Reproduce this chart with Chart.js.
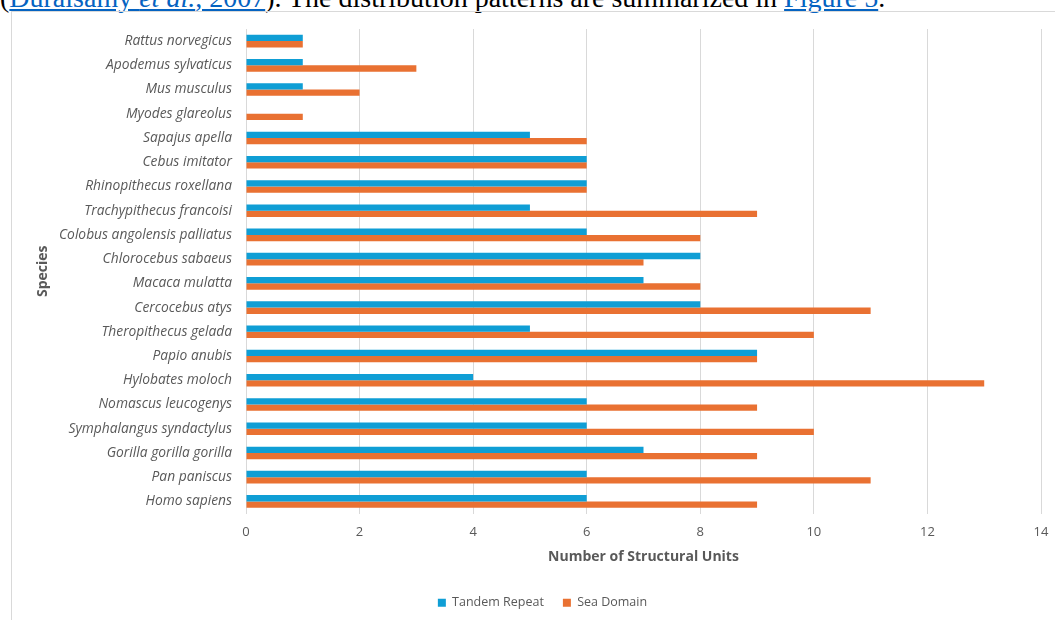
<!DOCTYPE html>
<html>
<head>
<meta charset="utf-8">
<script src="https://cdn.jsdelivr.net/npm/chart.js@4"></script>
<style>
  html, body { margin: 0; padding: 0; background: #fff; overflow: hidden; width: 1055px; height: 620px; }
  #above { position: absolute; left: 0; top: -16px; white-space: nowrap; font-family: "Liberation Serif", serif; font-size: 28px; line-height: 28px; color: #000; }
  #above a { color: #0563c1; text-decoration: underline; }
  #box { position: absolute; left: 11px; top: 11px; width: 1062px; height: 620px; border: 1px solid #d9d9d9; }
  #wrap { position: absolute; left: 0; top: 0; width: 1062px; height: 608px; }
</style>
</head>
<body>
<div id="above">(<a>Duraisamy <i>et al.</i>, 2007</a>). The distribution patterns are summarized in <a>Figure 5</a>.</div>
<div id="box"><div id="wrap"><canvas id="myChart" width="1062" height="608"></canvas></div></div>
<script>
const species = [
  'Rattus norvegicus', 'Apodemus sylvaticus', 'Mus musculus', 'Myodes glareolus',
  'Sapajus apella', 'Cebus imitator', 'Rhinopithecus roxellana', 'Trachypithecus francoisi',
  'Colobus angolensis palliatus', 'Chlorocebus sabaeus', 'Macaca mulatta', 'Cercocebus atys',
  'Theropithecus gelada', 'Papio anubis', 'Hylobates moloch', 'Nomascus leucogenys',
  'Symphalangus syndactylus', 'Gorilla gorilla gorilla', 'Pan paniscus', 'Homo sapiens'
];
const tandemRepeat = [1, 1, 1, 0, 5, 6, 6, 5, 6, 8, 7, 8, 5, 9, 4, 6, 6, 7, 6, 6];
const seaDomain = [1, 3, 2, 1, 6, 6, 6, 9, 8, 7, 8, 11, 10, 9, 13, 9, 10, 9, 11, 9];
const xTicks = [0, 2, 4, 6, 8, 10, 12, 14];

const grey = '#595959';
const fontName = 'Open Sans';
const ctx = document.getElementById('myChart').getContext('2d');

const myChart = new Chart(ctx, {
  type: 'bar',
  data: {
    labels: species,
    datasets: [
      {
        label: 'Tandem Repeat',
        data: tandemRepeat,
        backgroundColor: '#0f9ed5',
        borderWidth: 0
      },
      {
        label: 'Sea Domain',
        data: seaDomain,
        backgroundColor: '#e97132',
        borderWidth: 0
      }
    ]
  },
  options: {
    indexAxis: 'y',
    responsive: false,
    animation: false,
    devicePixelRatio: 1,
    datasets: {
      bar: { categoryPercentage: 0.52, barPercentage: 1 }
    },
    layout: {
      // left padding keeps the legend centred like the original
      padding: { left: 32, top: 17, right: 33, bottom: 1 }
    },
    plugins: {
      tooltip: { enabled: false },
      legend: {
        position: 'bottom',
        labels: {
          boxWidth: 8,
          boxHeight: 8,
          padding: 19,
          color: grey,
          font: { family: fontName, size: 12.5 }
        }
      }
    },
    scales: {
      x: {
        min: 0,
        max: 14,
        afterBuildTicks: (axis) => { axis.ticks = xTicks.map(v => ({ value: v })); },
        afterFit: (axis) => { axis.height = 64; },
        grid: { color: '#d9d9d9', drawTicks: false, lineWidth: 1 },
        border: { display: false },
        ticks: { color: grey, padding: 11, font: { family: fontName, size: 13 } },
        title: {
          display: true,
          text: 'Number of Structural Units',
          color: grey,
          padding: { top: 0, bottom: 12 },
          font: { family: fontName, size: 14, weight: 'bold' }
        }
      },
      y: {
        afterFit: (axis) => {
          axis.width = 202;
          // don't let the label padding push the plot down
          axis.paddingTop = 0;
          axis.paddingBottom = 0;
        },
        grid: { display: false, drawTicks: false },
        border: { display: true, color: '#d9d9d9', width: 1 },
        ticks: { color: grey, padding: 14, autoSkip: false, font: { family: fontName, size: 13.8, style: 'italic' } },
        title: {
          display: true,
          text: 'Species',
          color: grey,
          padding: { top: -9, bottom: 0 },
          font: { family: fontName, size: 14, weight: 'bold' }
        }
      }
    }
  }
});
</script>
</body>
</html>
